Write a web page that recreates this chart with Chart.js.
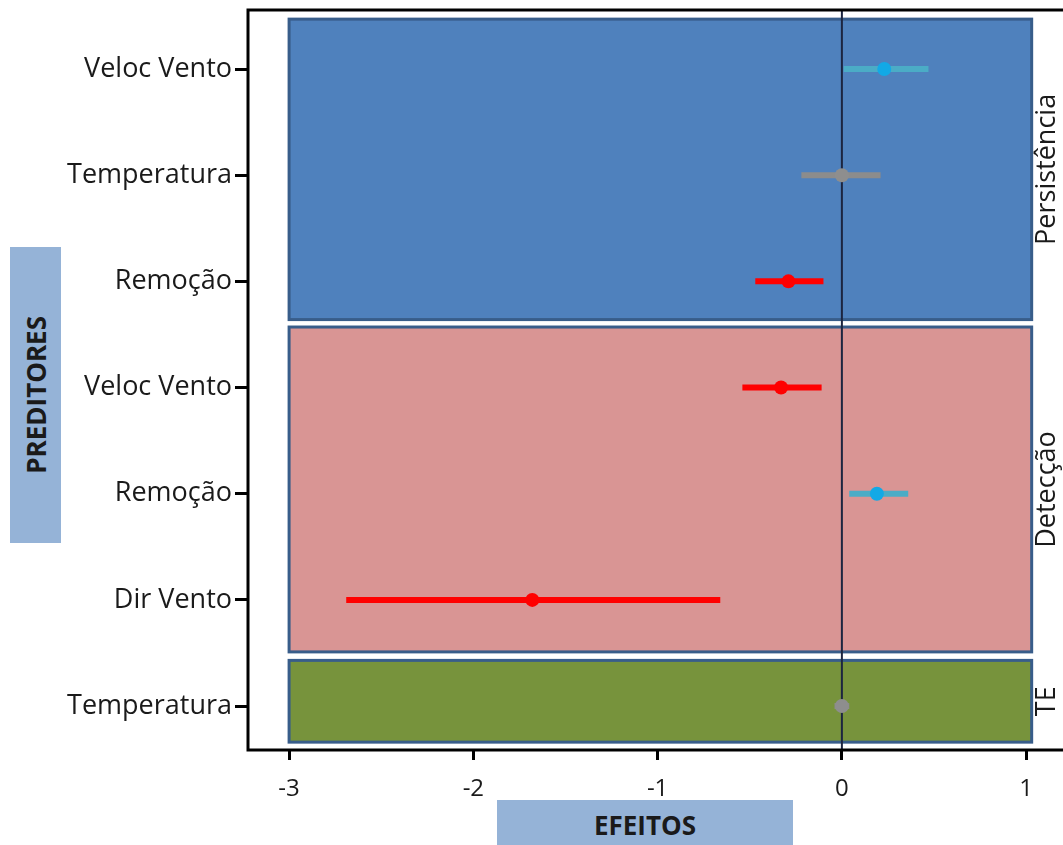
<!DOCTYPE html>
<html>
<head>
<meta charset="utf-8">
<script src="https://cdn.jsdelivr.net/npm/chart.js@4/dist/chart.umd.min.js"></script>
<style>
    body { margin: 0; background: #fff; }
    #wrap { position: relative; width: 1063px; height: 845px; overflow: hidden; }
    .rotulo {
        position: absolute;
        background: #95b3d7;
        color: #1a1a1a;
        font-family: "Open Sans", sans-serif;
        font-weight: bold;
        font-size: 26px;
        display: flex;
        align-items: center;
        justify-content: center;
    }
    #preditores { left: 10px; top: 247px; width: 51px; height: 296px; }
    #preditores span { writing-mode: vertical-rl; transform: rotate(180deg); }
    #efeitos { left: 497px; top: 800px; width: 296px; height: 45px; padding-top: 4px; box-sizing: border-box; }
</style>
</head>
<body>
<div id="wrap">
    <canvas id="chartEfeitos" width="1063" height="845"></canvas>
    <div id="preditores" class="rotulo"><span>PREDITORES</span></div>
    <div id="efeitos" class="rotulo"><span>EFEITOS</span></div>
</div>
<script>
// linhas do gráfico, de cima para baixo
const preditores = ['Veloc Vento', 'Temperatura', 'Remoção', 'Veloc Vento', 'Remoção', 'Dir Vento', 'Temperatura'];
const painel = [0, 0, 0, 1, 1, 1, 2];
const estimativa = [0.23, 0.00, -0.29, -0.33, 0.19, -1.68, 0.00];
const limInf = [0.01, -0.22, -0.47, -0.54, 0.04, -2.69, -0.04];
const limSup = [0.47, 0.21, -0.10, -0.11, 0.36, -0.66, 0.04];

const paineis = ['Persistência', 'Detecção', 'TE'];
const coresPainel = ['#4f81bd', '#d99594', '#77933c'];
const xTicks = [-3, -2, -1, 0, 1];

const fonte = '"Open Sans", sans-serif';

// folga de cada painel acima da primeira e abaixo da última linha
const folga = [[0.47, 0.36], [0.57, 0.49], [0.43, 0.34]];

// cor pelo sinal do intervalo
function corLinha(i) {
    if (limInf[i] > 0) return '#4bacc6';
    if (limSup[i] < 0) return '#ff0000';
    return '#8c8c8c';
}
function corPonto(i) {
    if (limInf[i] > 0) return '#12a9e6';
    if (limSup[i] < 0) return '#ff0000';
    return '#8e8e8e';
}

const datasets = preditores.map((p, i) => ({
    type: 'line',
    data: [{ x: limInf[i], y: i }, { x: limSup[i], y: i }],
    borderColor: corLinha(i),
    borderWidth: 6,
    borderCapStyle: 'butt',
    pointRadius: 0,
    order: 2,
}));
datasets.push({
    type: 'scatter',
    data: estimativa.map((v, i) => ({ x: v, y: i })),
    backgroundColor: estimativa.map((v, i) => corPonto(i)),
    borderWidth: 0,
    pointRadius: 7,
    order: 1,
});

// fundos dos painéis, linha do zero, moldura e rótulos das faixas
const paineisPlugin = {
    id: 'paineis',
    beforeDatasetsDraw(chart) {
        const { ctx, chartArea, scales: { x, y } } = chart;
        ctx.save();
        paineis.forEach((nome, k) => {
            const linhas = painel.map((p, i) => p === k ? i : null).filter(i => i !== null);
            const topo = linhas[0] - folga[k][0];
            const base = linhas[linhas.length - 1] + folga[k][1];
            const x0 = x.getPixelForValue(-3);
            const x1 = x.getPixelForValue(1.03);
            const y0 = y.getPixelForValue(topo);
            const y1 = y.getPixelForValue(base);
            ctx.fillStyle = coresPainel[k];
            ctx.fillRect(x0, y0, x1 - x0, y1 - y0);
            ctx.strokeStyle = '#385d8a';
            ctx.lineWidth = 3;
            ctx.strokeRect(x0, y0, x1 - x0, y1 - y0);

            ctx.save();
            ctx.translate(x.getPixelForValue(1.115), (y0 + y1) / 2);
            ctx.rotate(-Math.PI / 2);
            ctx.fillStyle = '#1a1a1a';
            ctx.font = '27px ' + fonte;
            ctx.textAlign = 'center';
            ctx.textBaseline = 'middle';
            ctx.fillText(nome, 0, 0);
            ctx.restore();
        });
        const x0 = x.getPixelForValue(0);
        ctx.strokeStyle = '#1c2540';
        ctx.lineWidth = 2;
        ctx.beginPath();
        ctx.moveTo(x0, chartArea.top);
        ctx.lineTo(x0, chartArea.bottom);
        ctx.stroke();
        ctx.restore();
    },
    afterDatasetsDraw(chart) {
        const { ctx, chartArea } = chart;
        ctx.save();
        ctx.strokeStyle = '#000';
        ctx.lineWidth = 3;
        ctx.beginPath();
        ctx.moveTo(chartArea.right + 5, chartArea.top);
        ctx.lineTo(chartArea.left, chartArea.top);
        ctx.lineTo(chartArea.left, chartArea.bottom);
        ctx.lineTo(chartArea.right + 5, chartArea.bottom);
        ctx.stroke();
        ctx.restore();
    }
};

new Chart(document.getElementById('chartEfeitos'), {
    data: { datasets },
    plugins: [paineisPlugin],
    options: {
        responsive: false,
        animation: false,
        layout: { autoPadding: false, padding: { top: 10, left: 0, right: 0, bottom: 0 } },
        plugins: { legend: { display: false }, tooltip: { enabled: false } },
        scales: {
            x: {
                type: 'linear',
                min: -3.223,
                max: 1.2,
                afterBuildTicks: (s) => { s.ticks = xTicks.map(v => ({ value: v })); },
                afterFit: (s) => { s.height = 95; s.paddingLeft = 0; s.paddingRight = 0; },
                border: { display: false },
                grid: { drawOnChartArea: false, tickLength: 10, tickWidth: 3, tickColor: '#000' },
                ticks: { color: '#1a1a1a', font: { family: fonte, size: 24 }, padding: 15 },
            },
            y: {
                type: 'linear',
                reverse: true,
                min: -0.556,
                max: 6.414,
                afterBuildTicks: (s) => { s.ticks = preditores.map((p, i) => ({ value: i })); },
                afterFit: (s) => { s.width = 248; s.paddingTop = 0; s.paddingBottom = 0; },
                border: { display: false },
                grid: { drawOnChartArea: false, tickLength: 13, tickWidth: 3, tickColor: '#000' },
                ticks: {
                    color: '#1a1a1a',
                    font: { family: fonte, size: 27 },
                    padding: 3,
                    callback: (v, i) => preditores[i],
                },
            },
        },
    },
});
</script>
</body>
</html>
